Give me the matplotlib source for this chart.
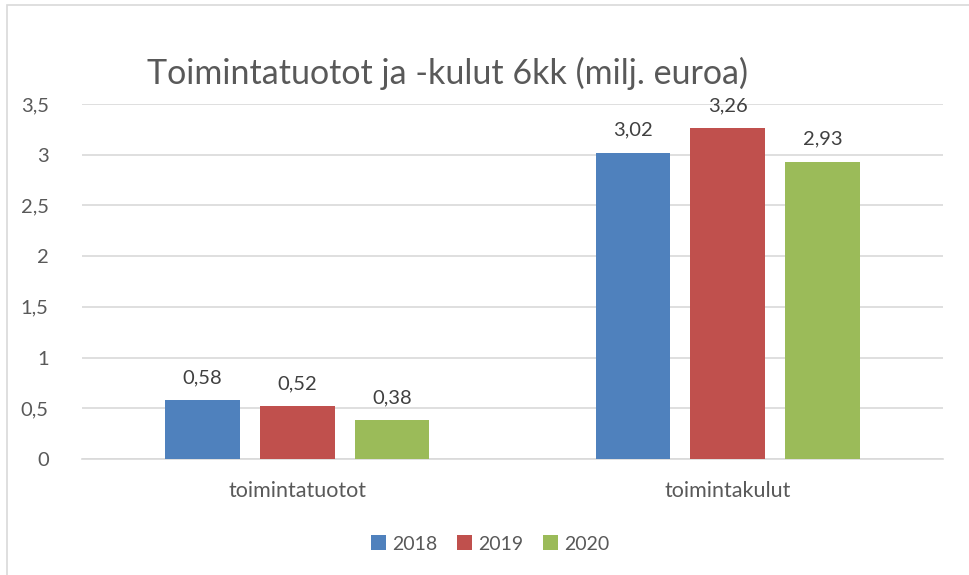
import matplotlib.pyplot as plt
import numpy as np
from matplotlib.patches import Rectangle

categories = ['toimintatuotot', 'toimintakulut']
years = ['2018', '2019', '2020']
values = {
    '2018': [0.58, 3.02],
    '2019': [0.52, 3.26],
    '2020': [0.38, 2.93],
}
colors = ['#4F81BD', '#C0504D', '#9BBB59']
yticks = [0, 0.5, 1, 1.5, 2, 2.5, 3, 3.5]

plt.rcParams['font.family'] = ['Lato', 'DejaVu Sans']
text_color = '#595959'

W, H = 969, 575
fig = plt.figure(figsize=(W / 100, H / 100), dpi=100)

# outer chart frame (cut off at right and bottom like the screenshot)
fig.patches.append(Rectangle((7 / W, -0.1), 1.2, 1 - 5 / H + 0.1,
                             transform=fig.transFigure, fill=False,
                             edgecolor='#D9D9D9', linewidth=1.2))

ax = fig.add_axes([82 / W, 1 - 459 / H, (943 - 82) / W, (459 - 104) / H])

x = np.arange(len(categories))
width = 0.174
step = 0.22
for i, (yr, col) in enumerate(zip(years, colors)):
    pos = x + (i - 1) * step
    bars = ax.bar(pos, values[yr], width, color=col, label=yr, zorder=3)
    for b, v in zip(bars, values[yr]):
        ax.text(b.get_x() + b.get_width() / 2, v + 0.14,
                f'{v:.2f}'.replace('.', ','), ha='center', va='bottom',
                fontsize=14.5, color='#404040')

ax.set_xlim(-0.5, 1.5)
ax.set_ylim(0, 3.5)
ax.set_yticks(yticks)
ax.set_yticklabels([f'{t:g}'.replace('.', ',') for t in yticks])
ax.set_xticks(x)
ax.set_xticklabels(categories)
ax.tick_params(axis='both', length=0, colors=text_color)
ax.tick_params(axis='y', pad=24, labelsize=14.5)
ax.tick_params(axis='x', pad=16, labelsize=15.5)
ax.grid(axis='y', color='#D9D9D9', linewidth=1.2, zorder=0)
for s in ['top', 'right', 'left']:
    ax.spines[s].set_visible(False)
ax.spines['bottom'].set_color('#D9D9D9')
ax.spines['bottom'].set_linewidth(1.2)

fig.text(147 / W, 1 - 84 / H, 'Toimintatuotot ja -kulut 6kk (milj. euroa)',
         ha='left', va='baseline', fontsize=24.5, color=text_color)

fig.legend(loc='center', bbox_to_anchor=(490 / W, 1 - 544 / H), ncol=3,
           frameon=False, fontsize=14, handlelength=0.8, handleheight=0.8,
           handletextpad=0.3, columnspacing=1.0, labelcolor=text_color)

fig.savefig('out.png', dpi=100)
